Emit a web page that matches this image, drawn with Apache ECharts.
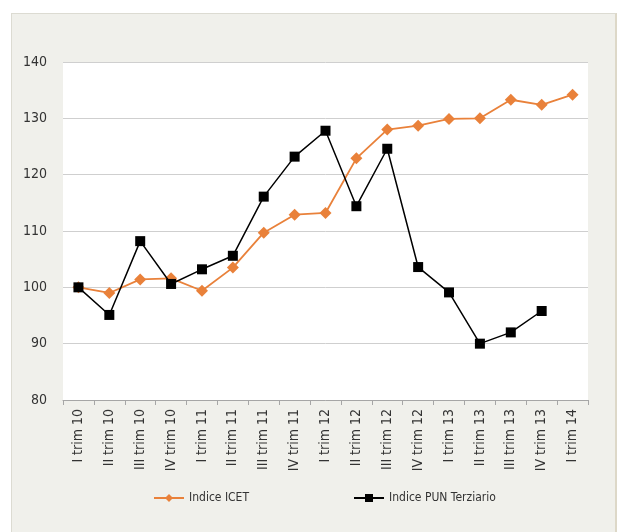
<!DOCTYPE html>
<html>
<head>
    <meta charset="utf-8"/>
    <title>Indice ICET vs Indice PUN Terziario</title>
    <script src="https://cdn.jsdelivr.net/npm/echarts@6/dist/echarts.min.js"></script>
    <style>
        html, body { margin: 0; padding: 0; background: #ffffff; }
        #panel {
            position: absolute; left: 11px; top: 13px; width: 603px; height: 530px;
            background: #f0f0eb; border: 1px solid #dcdbd2; border-right: 2px solid #ddd8c8;
        }
        #main { position: absolute; left: 0; top: 0; width: 618px; height: 532px; }
    </style>
</head>
<body>
<div id="panel"></div>
<div id="main"></div>
<script type="text/javascript">
    // trimestri
    var categories = ['I trim 10', 'II trim 10', 'III trim 10', 'IV trim 10',
        'I trim 11', 'II trim 11', 'III trim 11', 'IV trim 11',
        'I trim 12', 'II trim 12', 'III trim 12', 'IV trim 12',
        'I trim 13', 'II trim 13', 'III trim 13', 'IV trim 13', 'I trim 14'];
    var icet = [100, 99.0, 101.4, 101.6, 99.4, 103.5, 109.7, 112.9,
        113.2, 122.9, 128.0, 128.7, 129.9, 130.0, 133.3, 132.4, 134.2];
    var punTerziario = [100, 95.1, 108.2, 100.6, 103.2, 105.6, 116.1, 123.2,
        127.8, 114.4, 124.6, 103.6, 99.1, 90.0, 92.0, 95.8, null];
    var yTicks = [80, 90, 100, 110, 120, 130, 140];

    var font = '"Liberation Sans Narrow", "DejaVu Sans Condensed", sans-serif';
    var myChart = echarts.init(document.getElementById('main'));
    var chartOption = {
        animation: false,
        backgroundColor: 'transparent',
        grid: {
            left: 63, right: 30, top: 62, bottom: 132,
            show: true, backgroundColor: '#ffffff', borderWidth: 0
        },
        legend: {
            top: 487,
            left: 148,
            itemWidth: 30,
            itemHeight: 10,
            itemGap: 104,
            textStyle: { fontFamily: font, fontSize: 12, color: '#333' },
            data: ['Indice ICET', 'Indice PUN Terziario']
        },
        xAxis: {
            type: 'category',
            boundaryGap: true,
            data: categories,
            axisLine: { show: true, lineStyle: { color: '#a6a6a6', width: 1 } },
            axisTick: { show: true, length: 5, lineStyle: { color: '#a6a6a6' } },
            axisLabel: {
                interval: 0, rotate: 90, margin: 9,
                fontFamily: font, fontSize: 14, color: '#333'
            },
            splitLine: { show: false }
        },
        yAxis: {
            type: 'value',
            min: yTicks[0], max: yTicks[yTicks.length - 1], interval: 10,
            axisLine: { show: false },
            axisTick: { show: false },
            axisLabel: { margin: 16, fontFamily: font, fontSize: 14, color: '#333' },
            splitLine: { show: true, lineStyle: { color: '#cfcfcf', width: 1 } }
        },
        series: [
            {
                name: 'Indice ICET',
                type: 'line',
                data: icet,
                symbol: 'diamond',
                symbolSize: 12,
                itemStyle: { color: '#e9813a' },
                lineStyle: { color: '#e9813a', width: 1.8 },
                z: 2
            },
            {
                name: 'Indice PUN Terziario',
                type: 'line',
                data: punTerziario,
                symbol: 'rect',
                symbolSize: 10,
                itemStyle: { color: '#000000' },
                lineStyle: { color: '#000000', width: 1.5 },
                z: 3
            }
        ]
    };
    myChart.setOption(chartOption);
</script>
</body>
</html>
